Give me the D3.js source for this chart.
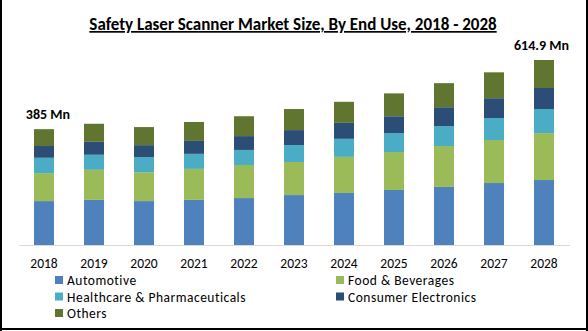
<!DOCTYPE html>
<html><head><meta charset="utf-8">
<script src="https://cdn.jsdelivr.net/npm/d3@7"></script>
<style>
html,body{margin:0;padding:0;background:#fff;}
svg{display:block;font-family:Carlito,Lato,"Liberation Sans",sans-serif;}
</style></head>
<body><svg id="c" width="588" height="331"></svg>
<script>
const years = ["2018","2019","2020","2021","2022","2023","2024","2025","2026","2027","2028"];
const seriesNames = ["Automotive","Food & Beverages","Healthcare & Pharmaceuticals","Consumer Electronics","Others"];
const automotive  = [146,150,146,150,156,166,173,183,193,206,216];
const foodBev     = [93,100,96,103,110,110,120,126,136,143,156];
const healthcare  = [51,50,50,50,50,56,60,63,66,73,80];
const consumerEl  = [39,43,40,43,46,50,53,56,63,66,70];
const others      = [56,60,60,63,66,70,70,76,80,86,93];
const colors = ["#4f81bd","#9bbb59","#4bacc6","#2c4d75","#5f7530"];
const annotations = [{year:"2018", label:"385 Mn"},{year:"2028", label:"614.9 Mn"}];

const seriesVals = [automotive, foodBev, healthcare, consumerEl, others];
const rows = years.map((y,i)=>{const o={year:y}; seriesNames.forEach((s,k)=>o[s]=seriesVals[k][i]); return o;});
const stack = d3.stack().keys(seriesNames)(rows);

const svg = d3.select("#c");
const W=588,H=331;
// frame
svg.append("line").attr("x1",1).attr("x2",1).attr("y1",0).attr("y2",H).attr("stroke","#000").attr("stroke-width",2);
svg.append("line").attr("x1",W-1).attr("x2",W-1).attr("y1",0).attr("y2",H).attr("stroke","#000").attr("stroke-width",2);
svg.append("line").attr("x1",0).attr("x2",W).attr("y1",H-2).attr("y2",H-2).attr("stroke","#000").attr("stroke-width",2);

const x = d3.scaleBand().domain(years).range([19,569]).paddingInner(0.6).paddingOuter(0.3);
const y = d3.scaleLinear().domain([0,615]).range([245,60]);

// title
svg.append("text").attr("x",293).attr("y",30).attr("text-anchor","middle")
  .attr("font-weight","bold").attr("font-size",17).attr("text-decoration","underline")
  .attr("fill","#000").text("Safety Laser Scanner Market Size, By End Use, 2018 - 2028");

svg.append("g").selectAll("g").data(stack).join("g").attr("fill",(d,i)=>colors[i])
  .selectAll("rect").data(d=>d).join("rect")
  .attr("x",d=>x(d.data.year)).attr("width",x.bandwidth())
  .attr("y",d=>y(d[1])).attr("height",d=>y(d[0])-y(d[1]));

// axis
const ax = svg.append("g").attr("transform","translate(0,245)")
  .call(d3.axisBottom(x).tickSize(0).tickPadding(13));
ax.select(".domain").attr("stroke","#d9d9d9").attr("d","M19,0.5H570");
ax.selectAll("text").attr("font-size",13.5).attr("fill","#000").attr("font-family","Carlito,Lato,sans-serif");

// annotations
const totals = rows.map(r=>seriesNames.reduce((a,s)=>a+r[s],0));
annotations.forEach(a=>{
  const i = years.indexOf(a.year);
  svg.append("text").attr("x",x(a.year)+x.bandwidth()/2).attr("y",y(totals[i])-10)
    .attr("text-anchor","end")
    .attr("dx", i===0 ? 26 : 25)
    .attr("font-weight","bold").attr("font-size",14).attr("fill","#000").text(a.label);
});

// legend
const legPos = [[55,280],[336,280],[55,296.5],[336,296.5],[55,313]];
const lg = svg.append("g").selectAll("g").data(seriesNames).join("g")
  .attr("transform",(d,i)=>`translate(${legPos[i][0]},${legPos[i][1]})`);
lg.append("rect").attr("x",0).attr("y",-4).attr("width",8).attr("height",8).attr("fill",(d,i)=>colors[i]);
lg.append("text").attr("x",12).attr("y",5).attr("font-size",13.5).attr("letter-spacing",0.5).attr("fill","#000").text(d=>d);
</script></body></html>
